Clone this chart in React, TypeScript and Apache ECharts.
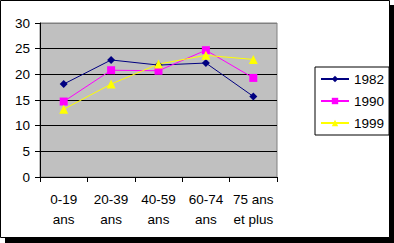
import React, { useEffect, useRef } from "react";
import * as echarts from "echarts";

const categories = ["0-19\nans", "20-39\nans", "40-59\nans", "60-74\nans", "75 ans\net plus"];
const s1982 = [18.1, 22.8, 21.8, 22.2, 15.7];
const s1990 = [14.7, 20.8, 20.7, 24.7, 19.3];
const s1999 = [13.2, 18.1, 22.0, 23.7, 22.9];
const seriesNames = ["1982", "1990", "1999"];

export default function App() {
  const ref = useRef<HTMLDivElement>(null);
  useEffect(() => {
    document.body.style.margin = "0";
    const chart = echarts.init(ref.current!, null, { renderer: "svg" });
    const font = "Liberation Sans, Arial, sans-serif";
    chart.setOption({
      animation: false,
      backgroundColor: "transparent",
      graphic: [
        { type: "rect", shape: { x: 5, y: 5, width: 389, height: 238 }, style: { fill: "#000" }, z: -10 },
        { type: "rect", shape: { x: 0.5, y: 0.5, width: 389, height: 237 }, style: { fill: "#fff", stroke: "#000", lineWidth: 1 }, z: -9 },
      ],
      grid: {
        left: 40, top: 23, width: 237, height: 154,
        show: true, backgroundColor: "#C0C0C0", borderColor: "#808080", borderWidth: 1,
        containLabel: false,
      },
      legend: {
        orient: "vertical",
        left: 315, top: 67,
        padding: [5, 5, 5, 5],
        itemGap: 8,
        itemWidth: 28, itemHeight: 8,
        borderColor: "#000", borderWidth: 1, borderRadius: 0,
        backgroundColor: "#fff",
        textStyle: { fontFamily: font, fontSize: 13.5, color: "#000", lineHeight: 14, padding: [0, 0, 0, 0] },
        itemStyle: { borderWidth: 0 },
        data: seriesNames,
      },
      xAxis: {
        type: "category",
        data: categories,
        boundaryGap: true,
        axisLine: { lineStyle: { color: "#000", width: 1 } },
        axisTick: { show: true, length: 5, lineStyle: { color: "#000" } },
        axisLabel: { fontFamily: font, fontSize: 13.5, color: "#000", lineHeight: 20, margin: 12, interval: 0 },
        splitLine: { show: false },
      },
      yAxis: {
        type: "value",
        min: 0, max: 30, interval: 5,
        axisLine: { show: true, lineStyle: { color: "#000", width: 1 } },
        axisTick: { show: true, length: 5, lineStyle: { color: "#000" } },
        axisLabel: { fontFamily: font, fontSize: 13.5, color: "#000", margin: 10 },
        splitLine: { show: true, lineStyle: { color: ["#000", "#000", "#000", "#000", "#000", "#000", "#808080"], width: 1 } },
      },
      series: [
        {
          name: seriesNames[0], type: "line", data: s1982,
          symbol: "diamond", symbolSize: 8,
          lineStyle: { color: "#000080", width: 1 },
          itemStyle: { color: "#000080" },
        },
        {
          name: seriesNames[1], type: "line", data: s1990,
          symbol: "rect", symbolSize: 8,
          lineStyle: { color: "#FF00FF", width: 1 },
          itemStyle: { color: "#FF00FF" },
        },
        {
          name: seriesNames[2], type: "line", data: s1999,
          symbol: "triangle", symbolSize: 9,
          lineStyle: { color: "#FFFF00", width: 1 },
          itemStyle: { color: "#FFFF00" },
        },
      ],
    });
    return () => chart.dispose();
  }, []);
  return <div ref={ref} style={{ position: "absolute", left: 0, top: 0, width: 394, height: 243 }} />;
}
